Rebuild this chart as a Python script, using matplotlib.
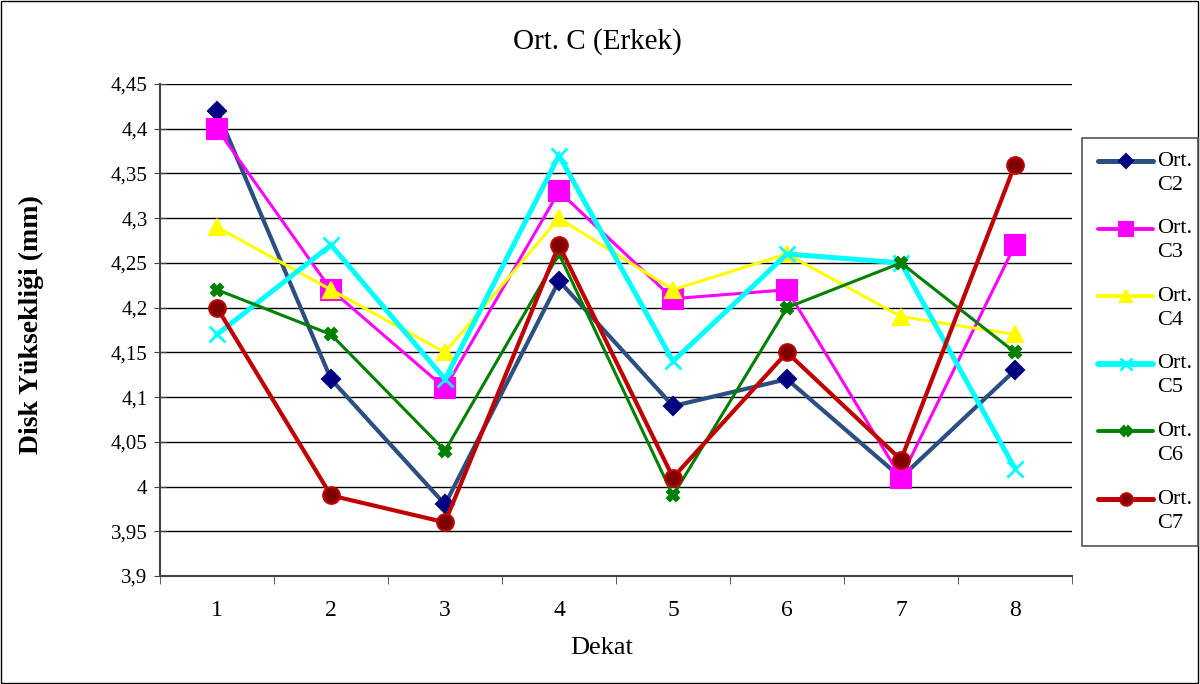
import matplotlib.pyplot as plt
from matplotlib.ticker import FuncFormatter, FixedLocator
from matplotlib.patches import Rectangle
from matplotlib.lines import Line2D

dekat = [1, 2, 3, 4, 5, 6, 7, 8]
c2 = [4.42, 4.12, 3.98, 4.23, 4.09, 4.12, 4.01, 4.13]
c3 = [4.40, 4.22, 4.11, 4.33, 4.21, 4.22, 4.01, 4.27]
c4 = [4.29, 4.22, 4.15, 4.30, 4.22, 4.26, 4.19, 4.17]
c5 = [4.17, 4.27, 4.12, 4.37, 4.14, 4.26, 4.25, 4.02]
c6 = [4.22, 4.17, 4.04, 4.26, 3.99, 4.20, 4.25, 4.15]
c7 = [4.20, 3.99, 3.96, 4.27, 4.01, 4.15, 4.03, 4.36]
names = ["C2", "C3", "C4", "C5", "C6", "C7"]

plt.rcParams['font.family'] = ['Liberation Serif', 'DejaVu Serif']

W, H = 1200, 684
fig = plt.figure(figsize=(12, 6.84), dpi=100)
fig.patches.append(Rectangle((0.001, 0.001), 0.997, 0.997, transform=fig.transFigure,
                             fill=False, edgecolor='black', linewidth=1))
ax = fig.add_axes([160 / W, 1 - 576 / H, 912 / W, 492 / H])

styles = [
    (c2, '#2B4F80', 'D', '#000080', '#000080', 9, 3.0),
    (c3, '#FF00FF', 's', '#FF00FF', '#FF00FF', 14, 2.2),
    (c4, '#FFFF00', '^', '#FFFF00', '#FFFF00', 11, 2.2),
    (c5, '#00FFFF', 'x', '#00FFFF', '#00FFFF', 12, 3.6),
    (c6, '#008000', 'X', '#008000', '#008000', 9, 2.2),
    (c7, '#C00000', 'o', '#800000', '#C00000', 12, 3.0),
]
for vals, col, mk, mfc, mec, ms, lw in styles:
    ax.plot(dekat, vals, color=col, linewidth=lw, marker=mk, markersize=ms,
            markerfacecolor=mfc, markeredgecolor=mec, markeredgewidth=1.5 if mk != 'x' else 2,
            solid_joinstyle='miter')

ax.set_xlim(0.5, 8.5)
ax.set_ylim(3.9, 4.45)
yt = [3.9 + 0.05 * i for i in range(12)]
ax.yaxis.set_major_locator(FixedLocator(yt))
ax.yaxis.set_major_formatter(FuncFormatter(lambda v, p: ('%g' % round(v, 2)).replace('.', ',')))
ax.set_xticks(dekat)
ax.set_xticks([0.5 + i for i in range(9)], minor=True)
ax.tick_params(axis='x', which='major', length=0, pad=17, labelsize=17)
ax.tick_params(axis='x', which='minor', length=6, direction='out', color='#444444')
ax.tick_params(axis='y', length=8, direction='inout', pad=5, labelsize=15, color='#444444')

ax.grid(axis='y', color='black', linewidth=1)
ax.set_axisbelow(True)
ax.spines['top'].set_visible(False)
ax.spines['right'].set_visible(False)
ax.spines['left'].set_color('#444444')
ax.spines['bottom'].set_color('#444444')
ax.spines['left'].set_linewidth(1.5)
ax.spines['bottom'].set_linewidth(1.5)

fig.text(597 / W, 1 - 42 / H, "Ort. C (Erkek)", fontsize=21, ha='center', va='center')
fig.text(602 / W, 1 - 648 / H, "Dekat", fontsize=19, ha='center', va='center')
fig.text(31 / W, 1 - 325 / H, "Disk Yüksekliği (mm)", fontsize=20, fontweight='bold',
         rotation=90, ha='center', va='center')

# legend drawn by hand so the marker line sits level with the first text row
fig.patches.append(Rectangle((1082 / W, 1 - 546 / H), 116 / W, 408 / H, transform=fig.transFigure,
                             fill=False, edgecolor='#555555', linewidth=1.2))
for i, ((vals, col, mk, mfc, mec, ms, lw), name) in enumerate(zip(styles, names)):
    y = 161 + 67.6 * i
    fig.lines.append(Line2D([1098 / W, 1153 / W], [1 - y / H, 1 - y / H], transform=fig.transFigure,
                            color=col, linewidth=lw + 0.6, solid_capstyle='round'))
    fig.lines.append(Line2D([1126 / W], [1 - y / H], transform=fig.transFigure, marker=mk,
                            markersize=ms * 0.75, markerfacecolor=mfc, markeredgecolor=mec,
                            markeredgewidth=1.5 if mk != 'x' else 2, color=col))
    fig.text(1157 / W, 1 - y / H, "Ort.", fontsize=16, ha='left', va='center')
    fig.text(1157 / W, 1 - (y + 24) / H, name, fontsize=16, ha='left', va='center')

fig.savefig("out.png", dpi=100)
